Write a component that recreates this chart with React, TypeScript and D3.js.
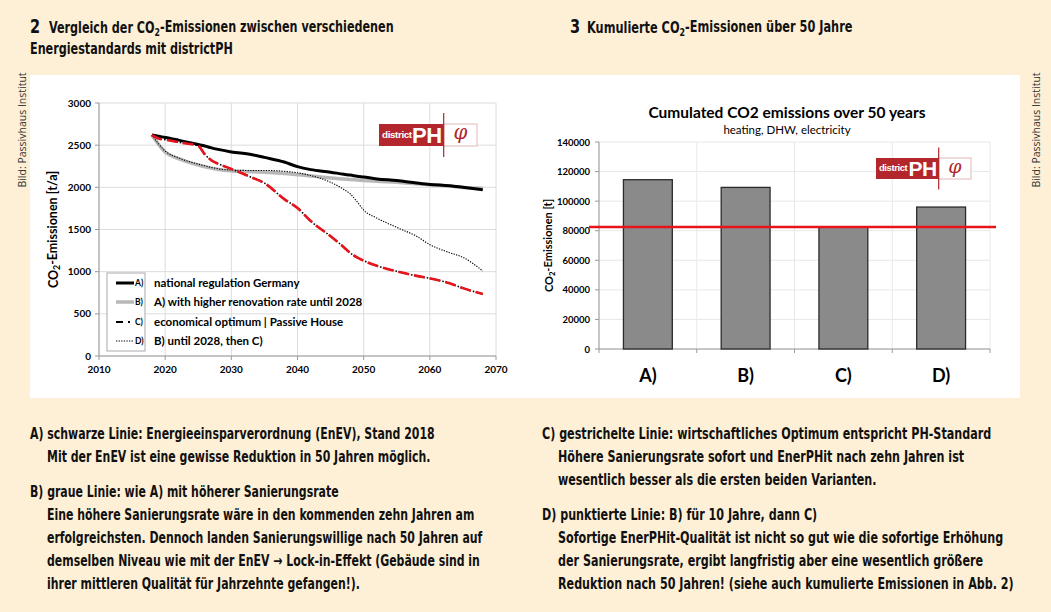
import * as d3 from 'd3';

// ---- data ----
const years = [2018, 2019, 2020, 2022, 2025, 2026, 2027, 2028, 2030, 2033, 2035, 2038, 2040, 2042, 2045, 2047, 2048, 2049, 2050, 2052, 2055, 2058, 2060, 2063, 2065, 2068];
const seriesA = [2620, 2605, 2592, 2560, 2508, 2490, 2468, 2450, 2420, 2390, 2355, 2300, 2245, 2210, 2180, 2155, 2145, 2132, 2122, 2100, 2080, 2052, 2035, 2018, 2000, 1972];
const seriesB = [2620, 2510, 2420, 2340, 2265, 2245, 2228, 2212, 2195, 2185, 2178, 2165, 2150, 2135, 2110, 2098, 2092, 2087, 2082, 2072, 2060, 2042, 2030, 2015, 1998, 1990];
const seriesC = [2620, 2580, 2565, 2535, 2490, 2390, 2320, 2280, 2218, 2120, 2050, 1860, 1755, 1600, 1420, 1290, 1220, 1170, 1130, 1070, 1005, 950, 920, 862, 805, 735];
const seriesD = [2620, 2515, 2430, 2350, 2275, 2255, 2235, 2220, 2205, 2200, 2200, 2190, 2172, 2140, 2060, 1975, 1920, 1830, 1730, 1635, 1525, 1420, 1320, 1225, 1170, 1008];

const legendKeys = ['A)', 'B)', 'C)', 'D)'];
const legendLabels = [
    'national regulation Germany',
    'A) with higher renovation rate until 2028',
    'economical optimum  |  Passive House',
    'B) until 2028, then C)',
];

const yearTicks = [2010, 2020, 2030, 2040, 2050, 2060, 2070];
const emissionTicks = [0, 500, 1000, 1500, 2000, 2500, 3000];

const barCategories = ['A)', 'B)', 'C)', 'D)'];
const barValues = [114500, 109300, 82500, 96000];
const barTicks = [0, 20000, 40000, 60000, 80000, 100000, 120000, 140000];
const referenceValue = 82500;

const notesLeft = [
    ['A) schwarze Linie: Energieeinsparverordnung (EnEV), Stand 2018', 'Mit der EnEV ist eine gewisse Reduktion in 50 Jahren möglich.'],
    [
        'B) graue Linie: wie A) mit höherer Sanierungsrate',
        'Eine höhere Sanierungsrate wäre in den kommenden zehn Jahren am',
        'erfolgreichsten. Dennoch landen Sanierungswillige nach 50 Jahren auf',
        'demselben Niveau wie mit der EnEV → Lock-in-Effekt (Gebäude sind in',
        'ihrer mittleren Qualität für Jahrzehnte gefangen!).',
    ],
];
const notesRight = [
    [
        'C) gestrichelte Linie: wirtschaftliches Optimum entspricht PH-Standard',
        'Höhere Sanierungsrate sofort und EnerPHit nach zehn Jahren ist',
        'wesentlich besser als die ersten beiden Varianten.',
    ],
    [
        'D) punktierte Linie: B) für 10 Jahre, dann C)',
        'Sofortige EnerPHit-Qualität ist nicht so gut wie die sofortige Erhöhung',
        'der Sanierungsrate, ergibt langfristig aber eine wesentlich größere',
        'Reduktion nach 50 Jahren! (siehe auch kumulierte Emissionen in Abb. 2)',
    ],
];

const CREAM = '#fef0d6';
const RED = '#e8141b';
const LOGO_RED = '#b2262c';
const GRID = '#dcdcdc';
const AXIS = '#9a9a9a';
const chartFont = "Lato, 'Open Sans', sans-serif";
const condFont = "'Liberation Sans Narrow', 'DejaVu Sans Condensed', 'Roboto Condensed', sans-serif";

function Logo({ x, y, w, h }: { x: number; y: number; w: number; h: number }) {
    const redW = w * 0.66;
    return (
        <g transform={`translate(${x},${y})`}>
            <rect x={redW} y={0} width={w - redW} height={h} fill="#fff" stroke="#e4b6b6" strokeWidth={1} />
            <rect x={0} y={0} width={redW} height={h} fill={LOGO_RED} />
            <text x={3} y={h * 0.64} fill="#fff" fontFamily="Arial, sans-serif" fontWeight="bold" fontSize={h * 0.45} letterSpacing={-0.4}>
                district
            </text>
            <text x={redW - 2} y={h * 0.88} fill="#fff" fontFamily="Arial, sans-serif" fontWeight="bold" fontSize={h * 1.0} textAnchor="end" letterSpacing={-0.5}>
                PH
            </text>
            <line x1={redW} x2={redW} y1={-h * 0.5} y2={h * 1.5} stroke={LOGO_RED} strokeWidth={1.2} />
            <text x={redW + (w - redW) / 2} y={h * 0.7} fill={LOGO_RED} fontFamily="'DejaVu Serif', serif" fontStyle="italic" fontSize={h * 0.9} textAnchor="middle">
                φ
            </text>
        </g>
    );
}

function CO2({ pre = '', post = '' }: { pre?: string; post?: string }) {
    return (
        <>
            {pre}CO
            <tspan fontSize="70%" dy="0.25em">2</tspan>
            <tspan dy="-0.25em">{post}</tspan>
        </>
    );
}

function LineChart() {
    const left = 99, right = 496, top = 103, bottom = 356;
    const x = d3.scaleLinear().domain([2010, 2070]).range([left, right]);
    const y = d3.scaleLinear().domain([0, 3000]).range([bottom, top]);
    const line = d3
        .line<number>()
        .x((_d, i) => x(years[i]))
        .y((d) => y(d))
        .curve(d3.curveMonotoneX);

    const legendY = [283, 302, 322, 341];
    const sample = (i: number, yy: number) => {
        const x1 = 116, x2 = 134;
        if (i === 0) return <line x1={x1} x2={x2} y1={yy} y2={yy} stroke="#000" strokeWidth={3} />;
        if (i === 1) return <line x1={x1} x2={x2} y1={yy} y2={yy} stroke="#b8b8b8" strokeWidth={3.5} />;
        if (i === 2) return <line x1={x1} x2={x2} y1={yy} y2={yy} stroke="#000" strokeWidth={1.8} strokeDasharray="7 5 2 4" />;
        return <line x1={x1} x2={x2} y1={yy} y2={yy} stroke="#000" strokeWidth={1.2} strokeDasharray="1.3 1.3" />;
    };

    return (
        <g fontFamily={chartFont}>
            {yearTicks.map((t) => (
                <line key={`vx${t}`} x1={x(t)} x2={x(t)} y1={top} y2={bottom} stroke={GRID} strokeWidth={1} />
            ))}
            {emissionTicks.map((t) => (
                <line key={`hy${t}`} x1={left} x2={right} y1={y(t)} y2={y(t)} stroke={GRID} strokeWidth={1} />
            ))}
            <line x1={left} x2={left} y1={top} y2={bottom} stroke={AXIS} />
            <line x1={left} x2={right} y1={bottom} y2={bottom} stroke={AXIS} />
            {yearTicks.map((t) => (
                <g key={`xt${t}`}>
                    <line x1={x(t)} x2={x(t)} y1={bottom} y2={bottom + 4} stroke={AXIS} />
                    <text x={x(t)} y={bottom + 17} textAnchor="middle" fontSize={10} fontWeight="bold">
                        {t}
                    </text>
                </g>
            ))}
            {emissionTicks.map((t) => (
                <g key={`yt${t}`}>
                    <line x1={left - 4} x2={left} y1={y(t)} y2={y(t)} stroke={AXIS} />
                    <text x={left - 8} y={y(t) + 3.5} textAnchor="end" fontSize={10} fontWeight="bold">
                        {t}
                    </text>
                </g>
            ))}
            <text transform={`translate(58,${(top + bottom) / 2}) rotate(-90)`} textAnchor="middle" fontSize={12.5} fontWeight="bold">
                <CO2 post="-Emissionen [t/a]" />
            </text>

            <Logo x={379} y={124} w={98} h={22} />

            <path d={line(seriesB) ?? ''} fill="none" stroke="#b8b8b8" strokeWidth={3.5} />
            <path d={line(seriesA) ?? ''} fill="none" stroke="#000" strokeWidth={3} />
            <path d={line(seriesD) ?? ''} fill="none" stroke="#000" strokeWidth={1.1} strokeDasharray="1.3 1.3" />
            <path d={line(seriesC) ?? ''} fill="none" stroke="#000" strokeWidth={1.6} strokeDasharray="11 2 1.5 1.5" />
            <path d={line(seriesC) ?? ''} fill="none" stroke={RED} strokeWidth={2.6} strokeDasharray="11 5" />

            <rect x={107} y={273} width={38} height={78} fill="#fff" stroke="#aaa" strokeWidth={1} />
            {legendLabels.map((label, i) => (
                <g key={label}>
                    {sample(i, legendY[i])}
                    <text x={135} y={legendY[i] + 3} fontSize={8.5} fontWeight="bold">
                        {legendKeys[i]}
                    </text>
                    <text x={154} y={legendY[i] + 4} fontSize={11.5} fontWeight="bold">
                        {label}
                    </text>
                </g>
            ))}
        </g>
    );
}

function BarChart() {
    const left = 599, right = 990, top = 142, bottom = 349;
    const x = d3.scaleBand<string>().domain(barCategories).range([left, right]).paddingInner(0.5).paddingOuter(0.25);
    const y = d3.scaleLinear().domain([0, 140000]).range([bottom, top]);
    const step = x.step();
    const bounds = d3.range(barCategories.length + 1).map((i) => left + i * step);

    return (
        <g fontFamily={chartFont}>
            <text x={787} y={118} textAnchor="middle" fontSize={15.5} fontWeight="bold">
                Cumulated CO2 emissions over 50 years
            </text>
            <text x={787} y={134} textAnchor="middle" fontSize={11.5}>
                heating, DHW, electricity
            </text>
            {barTicks.map((t) => (
                <line key={`g${t}`} x1={left} x2={right} y1={y(t)} y2={y(t)} stroke="#e8e8e8" />
            ))}
            {bounds.map((b, i) => (
                <line key={`v${i}`} x1={b} x2={b} y1={top} y2={bottom} stroke="#e8e8e8" />
            ))}
            <line x1={left} x2={left} y1={top} y2={bottom} stroke={AXIS} />
            <line x1={left} x2={right} y1={bottom} y2={bottom} stroke={AXIS} />
            {bounds.map((b, i) => (
                <line key={`t${i}`} x1={b} x2={b} y1={bottom} y2={bottom + 4} stroke={AXIS} />
            ))}
            {barTicks.map((t) => (
                <g key={`yt${t}`}>
                    <line x1={left - 4} x2={left} y1={y(t)} y2={y(t)} stroke={AXIS} />
                    <text x={left - 9} y={y(t) + 3.5} textAnchor="end" fontSize={9.5} fontWeight="bold">
                        {t}
                    </text>
                </g>
            ))}
            <text transform={`translate(553,${(top + bottom) / 2}) rotate(-90)`} textAnchor="middle" fontSize={11} fontWeight="bold">
                <CO2 post="-Emissionen [t]" />
            </text>
            {barCategories.map((c, i) => (
                <g key={c}>
                    <rect x={x(c)} y={y(barValues[i])} width={x.bandwidth()} height={bottom - y(barValues[i])} fill="#8a8a8a" stroke="#2b2b2b" strokeWidth={1.3} />
                    <text x={(x(c) ?? 0) + x.bandwidth() / 2} y={382} textAnchor="middle" fontSize={18} fontWeight="bold">
                        {c}
                    </text>
                </g>
            ))}
            <line x1={left - 10} x2={right + 6} y1={y(referenceValue)} y2={y(referenceValue)} stroke={RED} strokeWidth={2.5} />
            <Logo x={876} y={158} w={95} h={21} />
        </g>
    );
}

function Notes({ blocks, x0, indent, starts, sx }: { blocks: string[][]; x0: number; indent: number; starts: number[]; sx: number }) {
    return (
        <g fontFamily={condFont} fontWeight="bold" fontSize={15.5} fill="#111">
            {blocks.map((lines, b) =>
                lines.map((ln, i) => (
                    <text key={`${b}-${i}`} transform={`translate(${i === 0 ? x0 : x0 + indent},${starts[b] + i * 23}) scale(${sx},1)`}>
                        {ln}
                    </text>
                ))
            )}
        </g>
    );
}

export default function App() {
    return (
        <svg width={1051} height={612} viewBox="0 0 1051 612" style={{ position: 'absolute', left: 0, top: 0 }}>
            <rect width={1051} height={612} fill={CREAM} />
            <rect x={30} y={75} width={990} height={323} fill="#fff" />

            <g fontFamily={condFont} fontWeight="bold" fill="#111">
                <text transform="translate(30,33) scale(0.85,1)" fontSize={19}>2</text>
                <text transform="translate(49,33) scale(0.83,1)" fontSize={15}>
                    Vergleich der <CO2 post="-Emissionen zwischen verschiedenen" />
                </text>
                <text transform="translate(30,54) scale(0.83,1)" fontSize={15}>Energiestandards mit districtPH</text>
                <text transform="translate(570,33) scale(0.85,1)" fontSize={19}>3</text>
                <text transform="translate(587,33) scale(0.84,1)" fontSize={15}>
                    Kumulierte <CO2 post="-Emissionen über 50 Jahre" />
                </text>
            </g>

            <g fontFamily="'Open Sans', 'DejaVu Sans', sans-serif" fontSize={10.5} fill="#333">
                <text transform="translate(26,130) rotate(-90)" textAnchor="middle">Bild: Passivhaus Institut</text>
                <text transform="translate(1040,130) rotate(-90)" textAnchor="middle">Bild: Passivhaus Institut</text>
            </g>

            <LineChart />
            <BarChart />

            <Notes blocks={notesLeft} x0={30} indent={17} starts={[439, 497]} sx={0.785} />
            <Notes blocks={notesRight} x0={542} indent={16} starts={[439, 520]} sx={0.8} />
        </svg>
    );
}
